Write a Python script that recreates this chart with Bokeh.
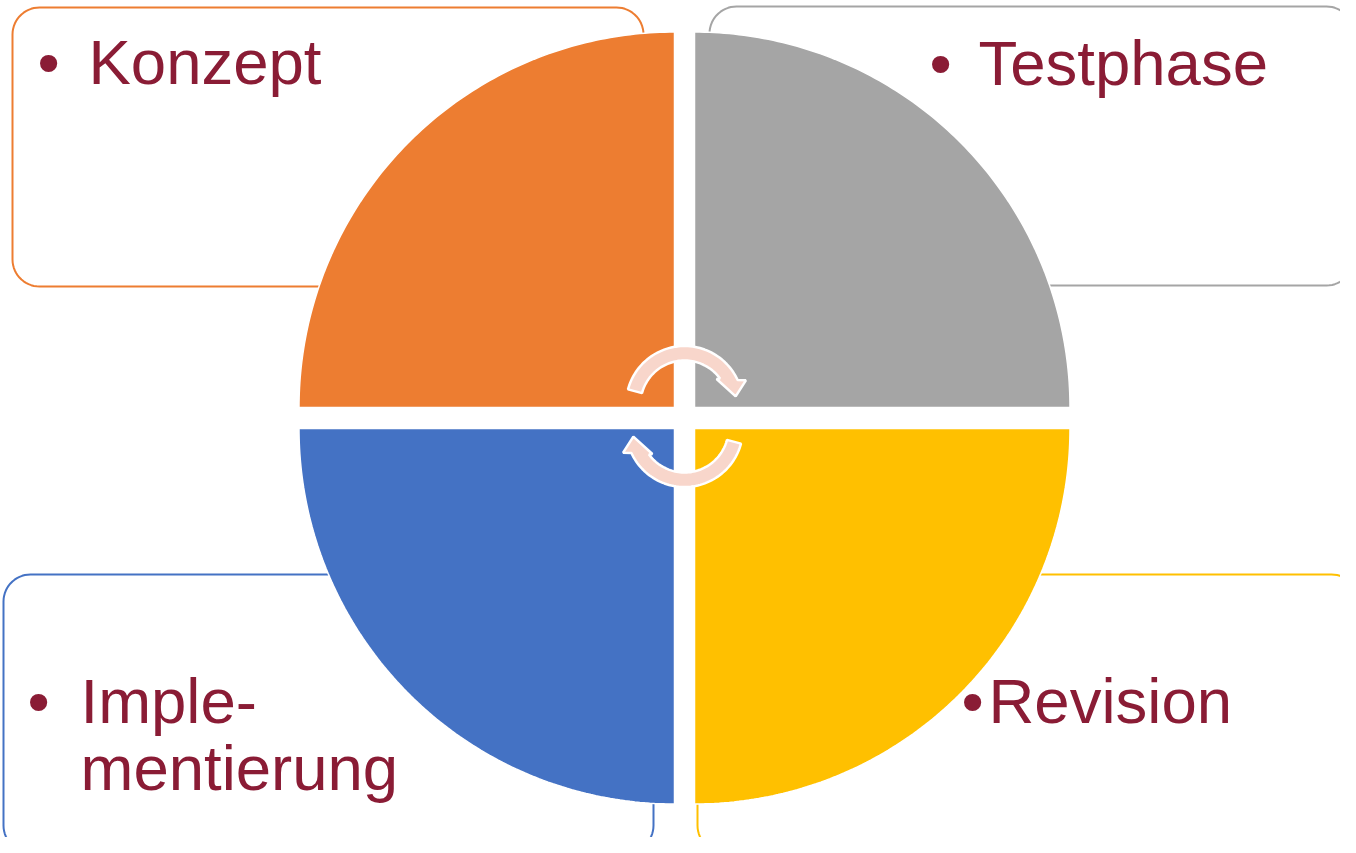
import numpy as np
from bokeh.plotting import figure
from bokeh.models import Range1d
from bokeh.embed import file_html
from bokeh.resources import INLINE
from bokeh.core.properties import value

# ---- content ----
phases = ["Konzept", "Testphase", "Imple-\nmentierung", "Revision"]
colors = ["#ED7D31", "#A5A5A5", "#4472C4", "#FFC000"]
text_color = "#8A1C35"
arrow_fill = "#F8D6CB"

# ---- layout (reference pixel space) ----
boxes = [(12, 7, 643, 286), (709, 6, 1353, 285), (3, 574, 653, 852), (697, 574, 1358, 852)]
corner_r = 27
hub = (684, 417.5)
gap = (10, 10.5)
R = 375.5
quad_angles = [(90, 180), (0, 90), (180, 270), (270, 360)]
quad_dirs = [(-1, -1), (1, -1), (-1, 1), (1, 1)]
text_pos = [(88, 84), (978, 85), (80, 723), (988, 723)]
bullet_pos = [(48, 84), (940, 85), (38, 723), (972, 723)]
line_gap = 67
baseline_fix = -23


def rounded_rect(x0, y0, x1, y1, r, n=16):
    xs, ys = [], []
    corners = [(x1 - r, y0 + r, 90, 0), (x1 - r, y1 - r, 0, -90),
               (x0 + r, y1 - r, -90, -180), (x0 + r, y0 + r, 180, 90)]
    for cx, cy, a0, a1 in corners:
        t = np.radians(np.linspace(a0, a1, n))
        xs += list(cx + r * np.cos(t))
        ys += list(cy - r * np.sin(t))
    return xs, ys


def sector(cx, cy, r, a0, a1, n=120):
    t = np.radians(np.linspace(a0, a1, n))
    return [cx] + list(cx + r * np.cos(t)), [cy] + list(cy - r * np.sin(t))


def circ_arrow(cx, cy, rot):
    r_in, r_out = 44, 58.5
    start = 165
    end_out, end_in = 24.8, 36.2
    w_out, w_in, tip = (66, 21.5), (41, 38.5), (51.8, 9)
    pts = []
    for a in np.linspace(start, end_out, 60):
        pts.append((r_out, a))
    pts += [w_out, tip, w_in]
    for a in np.linspace(end_in, start, 60):
        pts.append((r_in, a))
    xs = [cx + r * np.cos(np.radians(a + rot)) for r, a in pts]
    ys = [cy - r * np.sin(np.radians(a + rot)) for r, a in pts]
    return xs, ys


W, H = 1340, 837
p = figure(width=W, height=H, x_range=Range1d(0, W), y_range=Range1d(H, 0),
           x_axis_type=None, y_axis_type=None, toolbar_location=None,
           output_backend="svg", min_border=0, outline_line_color=None,
           background_fill_color="white", border_fill_color="white")
p.xgrid.visible = False
p.ygrid.visible = False

# boxes
for (x0, y0, x1, y1), c in zip(boxes, colors):
    xs, ys = rounded_rect(x0, y0, x1, y1, corner_r)
    p.patch(xs, ys, fill_color="white", line_color=c, line_width=2)

# quadrants
for (a0, a1), (dx, dy), c in zip(quad_angles, quad_dirs, colors):
    cx = hub[0] + dx * gap[0]
    cy = hub[1] + dy * gap[1]
    xs, ys = sector(cx, cy, R, a0, a1)
    p.patch(xs, ys, fill_color=c, line_color="white", line_width=1.5)

# circular arrows
for cy, rot in [(hub[1] - 13.5, 0), (hub[1] + 10.5, 180)]:
    xs, ys = circ_arrow(hub[0], cy, rot)
    p.patch(xs, ys, fill_color=arrow_fill, line_color="white", line_width=2.5)

# labels
tx, ty, tt = [], [], []
for (x, y), label in zip(text_pos, phases):
    for i, line in enumerate(label.split("\n")):
        tx.append(x)
        ty.append(y + i * line_gap + baseline_fix)
        tt.append(line)
p.text(x=tx, y=ty, text=tt, text_font=value("Liberation Sans"), text_font_size="63.5px",
       text_color=text_color, text_baseline="alphabetic", text_align="left")
p.text(x=[b[0] for b in bullet_pos], y=[b[1] + baseline_fix for b in bullet_pos],
       text=["•"] * len(bullet_pos),
       text_font=value("Liberation Sans"), text_font_size="63.5px",
       text_color=text_color, text_baseline="alphabetic", text_align="center")

open("out.html", "w").write(file_html(p, INLINE))
